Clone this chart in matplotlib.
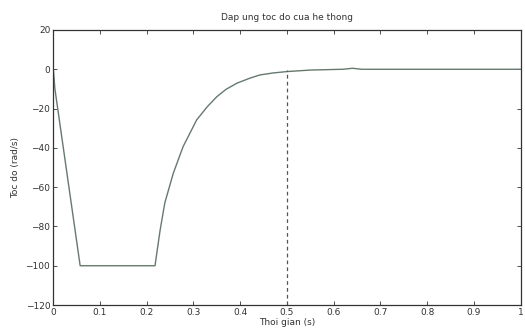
import matplotlib
matplotlib.use("Agg")
import matplotlib.pyplot as plt
import numpy as np

# Data
t = [0.0, 0.004, 0.058, 0.218, 0.229, 0.239, 0.257, 0.278, 0.307, 0.330, 0.350,
     0.370, 0.393, 0.420, 0.442, 0.470, 0.499, 0.55, 0.62, 0.64, 0.66, 0.75, 1.0]
speed = [2, -10, -100, -100, -81.8, -68, -53, -39.4, -25.8, -19, -14,
         -10.2, -7.1, -4.6, -2.9, -1.9, -1.2, -0.4, 0.0, 0.5, 0.0, 0.0, 0.0]
marker_t = 0.5
marker_top = -0.5

x_ticks = [0, 0.1, 0.2, 0.3, 0.4, 0.5, 0.6, 0.7, 0.8, 0.9, 1]
x_tick_labels = ["0", "0.1", "0.2", "0.3", "0.4", "0.5", "0.6", "0.7", "0.8", "0.9", "1"]
y_ticks = [-120, -100, -80, -60, -40, -20, 0, 20]

title = "Dap ung toc do cua he thong"
xlabel = "Thoi gian (s)"
ylabel = "Toc do (rad/s)"

fig = plt.figure(figsize=(5.25, 3.33), dpi=100)
ax = fig.add_axes([0.101, 0.084, 0.891, 0.826])

ax.plot(t, speed, color="#66796d", lw=1.0)
ax.plot([marker_t, marker_t], [-120, marker_top], color="#555555", lw=0.9,
        linestyle=(0, (3, 2.5)))

ax.set_xlim(0, 1)
ax.set_ylim(-120, 20)
ax.set_xticks(x_ticks)
ax.set_xticklabels(x_tick_labels)
ax.set_yticks(y_ticks)
ax.tick_params(direction="in", top=True, right=True, labelsize=6.5,
               length=3, width=0.6, colors="#333333", pad=2)
for s in ax.spines.values():
    s.set_linewidth(0.9)
    s.set_color("#333333")

ax.set_title(title, fontsize=6.5, color="#333333", pad=7)
ax.set_xlabel(xlabel, fontsize=6.5, color="#333333", labelpad=1)
ax.set_ylabel(ylabel, fontsize=6.5, color="#333333", labelpad=4)

fig.savefig("out.png", dpi=100)
